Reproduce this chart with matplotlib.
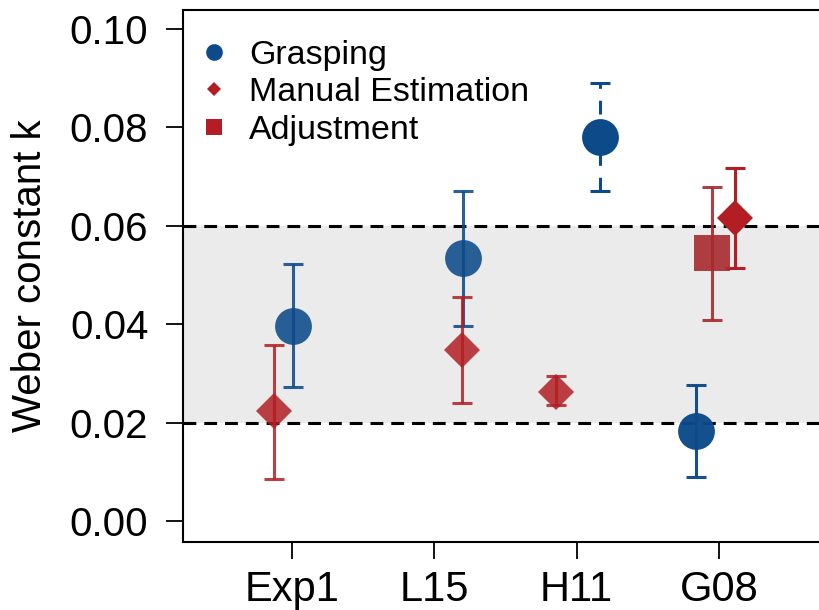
import numpy as np
import matplotlib
matplotlib.use("Agg")
import matplotlib.pyplot as plt
from matplotlib.lines import Line2D

plt.rcParams['font.family'] = ['Liberation Sans', 'DejaVu Sans']

# Weber fractions per study, with upper/lower error bounds
studies = ["Exp1", "L15", "H11", "G08"]

grasp_k = [0.0396, 0.0535, 0.0780, 0.0183]
grasp_hi = [0.0522, 0.0671, 0.0890, 0.0276]
grasp_lo = [0.0272, 0.0396, 0.0671, 0.0089]

manual_k = [0.0224, 0.0348, 0.0262, 0.0616]
manual_hi = [0.0358, 0.0455, 0.0295, 0.0717]
manual_lo = [0.0085, 0.0240, 0.0236, 0.0514]

adjust_study = ["G08"]
adjust_k = [0.0545]
adjust_hi = [0.0679]
adjust_lo = [0.0409]

band_lo, band_hi = 0.02, 0.06

blue = '#0d4a8a'
red = '#b21e23'

# horizontal nudges so overlapping points stay readable
grasp_dx = [0.007, 0.204, 0.162, -0.162]
manual_dx = [-0.126, 0.197, -0.148, 0.110]
adjust_dx = [-0.049]
grasp_alpha = [0.88, 0.88, 1.0, 0.97]
manual_alpha = [0.85, 0.85, 0.85, 1.0]

fig = plt.figure(figsize=(8.2, 6.1), dpi=100)
ax = fig.add_axes([183/820, 68/610, 653/820, 532/610])

xpos = np.arange(1, len(studies) + 1)

ax.axhspan(band_lo, band_hi, color='#ebebeb', lw=0, zorder=0)
for yv in (band_lo, band_hi):
    ax.axhline(yv, color='black', lw=2.2, ls=(0, (4.2, 2.6)), zorder=1)


def draw(x, k, hi, lo, color, marker, ms, alpha, dashed=False):
    k = np.asarray(k)
    err = [k - np.asarray(lo), np.asarray(hi) - k]
    for i in range(len(k)):
        eb = ax.errorbar(x[i], k[i], yerr=[[err[0][i]], [err[1][i]]], fmt=marker,
                         color=color, ms=ms, elinewidth=2.2, capsize=7,
                         capthick=2.2, alpha=alpha[i], zorder=3)
        eb[0].set_markeredgewidth(0)
        if dashed and i == 2:
            eb[2][0].set_linestyle((0, (4.5, 3.9)))


draw(xpos + np.array(grasp_dx), grasp_k, grasp_hi, grasp_lo, blue, 'o', 26.5,
     grasp_alpha, dashed=True)
draw(xpos + np.array(manual_dx), manual_k, manual_hi, manual_lo, red, 'D', 18.3,
     manual_alpha)
adj_x = np.array([studies.index(s) + 1 for s in adjust_study]) + np.array(adjust_dx)
draw(adj_x, adjust_k, adjust_hi, adjust_lo, '#a82a2e', 's', 26.5, [0.9])

ax.set_xlim(0.234, 0.234 + 653/142.3)
ax.set_ylim(-0.00427, 0.10386)
ax.set_xticks(xpos)
ax.set_xticklabels(studies)
ax.set_yticks(np.arange(0, 0.101, 0.02))
ax.set_yticklabels(["%.2f" % v for v in np.arange(0, 0.101, 0.02)])
ax.tick_params(axis='y', labelsize=29, length=12, width=1.3, pad=13)
ax.tick_params(axis='x', labelsize=30, length=12, width=1.3, pad=8)
for s in ax.spines.values():
    s.set_linewidth(1.5)
ax.spines['right'].set_visible(False)
ax.set_ylabel("Weber constant k", fontsize=29, labelpad=15)

handles = [
    Line2D([], [], ls='none', marker='o', ms=12, color=blue, mew=0),
    Line2D([], [], ls='none', marker='D', ms=7.6, color=red, mew=0),
    Line2D([], [], ls='none', marker='s', ms=11, color=red, mew=0),
]
ax.legend(handles, ["Grasping", "Manual Estimation", "Adjustment"],
          loc='upper left', bbox_to_anchor=(0.0, 0.97), frameon=False,
          fontsize=24.5, handlelength=1.0, handletextpad=0.55, labelspacing=0.2,
          borderaxespad=0)

fig.savefig("out.png", dpi=100)
